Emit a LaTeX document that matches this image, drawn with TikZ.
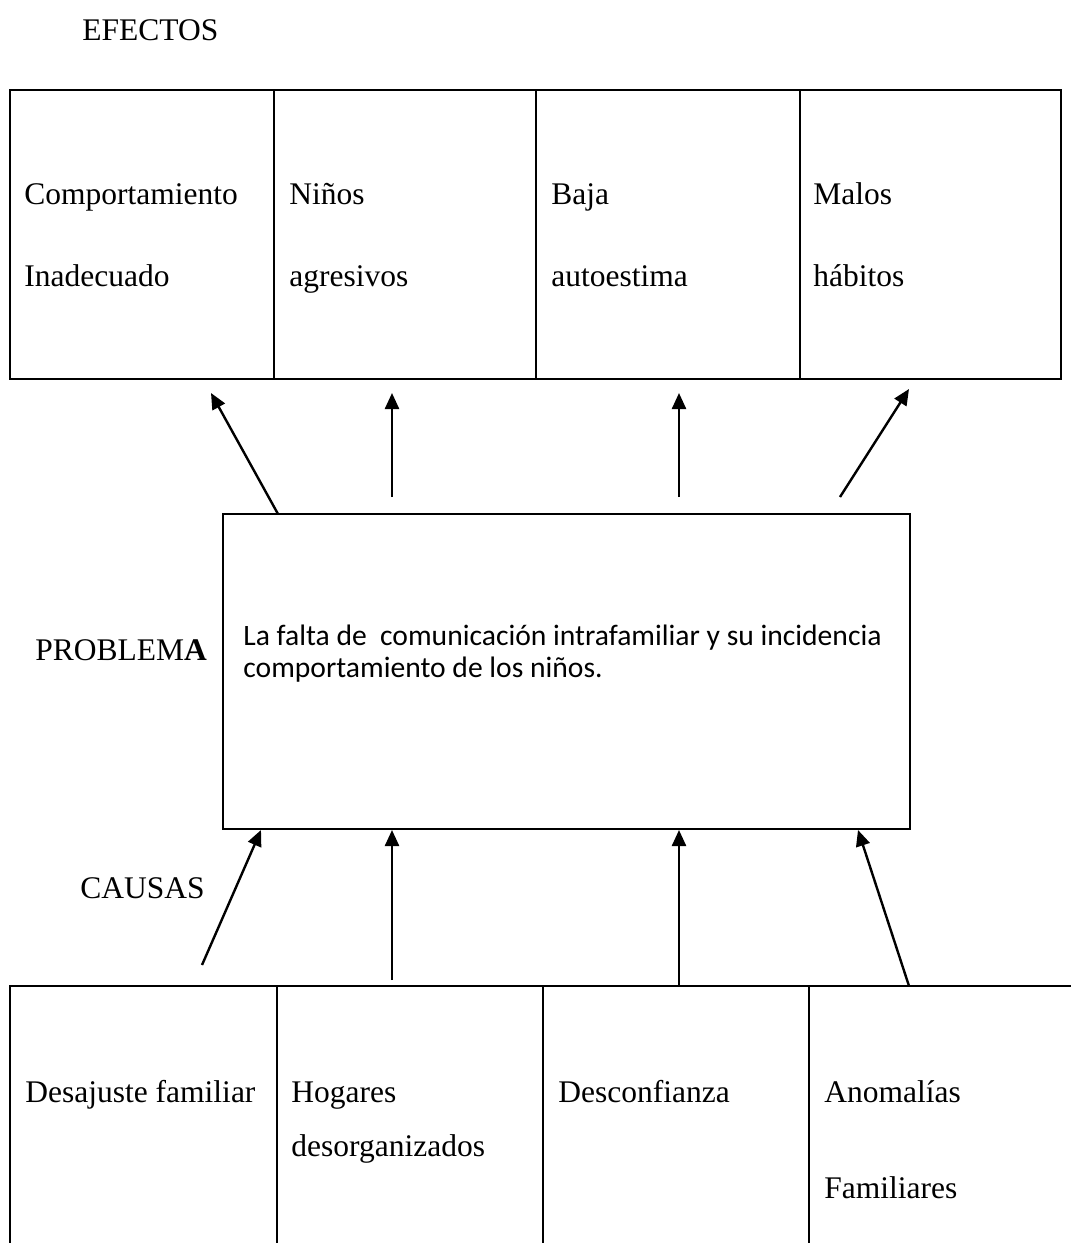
\documentclass[tikz,border=0pt]{standalone}
\usepackage{fontspec}
\setmainfont{Liberation Serif}
\newfontfamily\calib{Carlito}
\usetikzlibrary{arrows.meta}
\begin{document}
\begin{tikzpicture}[x=0.5pt,y=-0.5pt,
  tbl/.style={line width=1.3pt},
  boxline/.style={line width=1pt},
  arr/.style={line width=1.2pt,-{Triangle[length=8pt,width=7pt]}},
  lbl/.style={anchor=base west,inner sep=0pt,font=\fontsize{15.75pt}{18pt}\selectfont},
  ptxt/.style={anchor=base west,inner sep=0pt,font=\calib\fontsize{14.8pt}{17pt}\selectfont}]
\useasboundingbox[fill=white] (0,0) rectangle (1071,1243);
% headings
\node[lbl] (efectos) at (82,40) {EFECTOS};
\node[lbl] (problema) at (35,660) {PROBLEM\textbf{A}};
\node[lbl] (causas) at (80,898) {CAUSAS};
% effects table
\node[tbl,draw,minimum width=132pt,minimum height=144.5pt,inner sep=0pt] (e1) at (142,234.5) {};
\node[tbl,draw,minimum width=131pt,minimum height=144.5pt,inner sep=0pt] (e2) at (405,234.5) {};
\node[tbl,draw,minimum width=132pt,minimum height=144.5pt,inner sep=0pt] (e3) at (668,234.5) {};
\node[tbl,draw,minimum width=130.5pt,minimum height=144.5pt,inner sep=0pt] (e4) at (930.5,234.5) {};
\node[lbl] (t1a) at (24,204) {Comportamiento};
\node[lbl] (t1b) at (24,286) {Inadecuado};
\node[lbl] (t2a) at (289,204) {Niños};
\node[lbl] (t2b) at (289,286) {agresivos};
\node[lbl] (t3a) at (551,204) {Baja};
\node[lbl] (t3b) at (551,286) {autoestima};
\node[lbl] (t4a) at (813,204) {Malos};
\node[lbl] (t4b) at (813,286) {hábitos};
% problem box
\node[boxline,draw,minimum width=343.5pt,minimum height=157.5pt,inner sep=0pt] (prob) at (566.5,671.5) {};
\node[ptxt] (pl1) at (243,645) {La falta de \ comunicación intrafamiliar y su incidencia};
\node[ptxt] (pl2) at (243,677) {comportamiento de los niños.};
% causes table
\coordinate (c0t) at (10,986); \coordinate (c0b) at (10,1243);
\coordinate (c1t) at (277,986); \coordinate (c1b) at (277,1243);
\coordinate (c2t) at (543,986); \coordinate (c2b) at (543,1243);
\coordinate (c3t) at (809,986); \coordinate (c3b) at (809,1243);
\coordinate (cend) at (1071,986);
\draw[tbl] (c0b) -- (c0t) -- (cend);
\draw[tbl] (c1t) -- (c1b);
\draw[tbl] (c2t) -- (c2b);
\draw[tbl] (c3t) -- (c3b);
\node[lbl] (b1) at (25,1102) {Desajuste familiar};
\node[lbl] (b2a) at (291,1102) {Hogares};
\node[lbl] (b2b) at (291,1156) {desorganizados};
\node[lbl] (b3) at (558,1102) {Desconfianza};
\node[lbl] (b4a) at (824,1102) {Anomalías};
\node[lbl] (b4b) at (824,1198) {Familiares};
% effect arrows
\coordinate (ea1s) at (278,514); \coordinate (ea1e) at (211,393);
\coordinate (ea2s) at (392,497); \coordinate (ea2e) at (392,393);
\coordinate (ea3s) at (679,497); \coordinate (ea3e) at (679,393);
\coordinate (ea4s) at (840,497); \coordinate (ea4e) at (909,389);
\draw[arr] (ea1s) -- (ea1e);
\draw[arr] (ea2s) -- (ea2e);
\draw[arr] (ea3s) -- (ea3e);
\draw[arr] (ea4s) -- (ea4e);
% cause arrows
\coordinate (ca1s) at (202,965); \coordinate (ca1e) at (261,830);
\coordinate (ca2s) at (392,980); \coordinate (ca2e) at (392,830);
\coordinate (ca3s) at (679,986); \coordinate (ca3e) at (679,830);
\coordinate (ca4s) at (909,986); \coordinate (ca4e) at (858,830);
\draw[arr] (ca1s) -- (ca1e);
\draw[arr] (ca2s) -- (ca2e);
\draw[arr] (ca3s) -- (ca3e);
\draw[arr] (ca4s) -- (ca4e);
\end{tikzpicture}
\end{document}
